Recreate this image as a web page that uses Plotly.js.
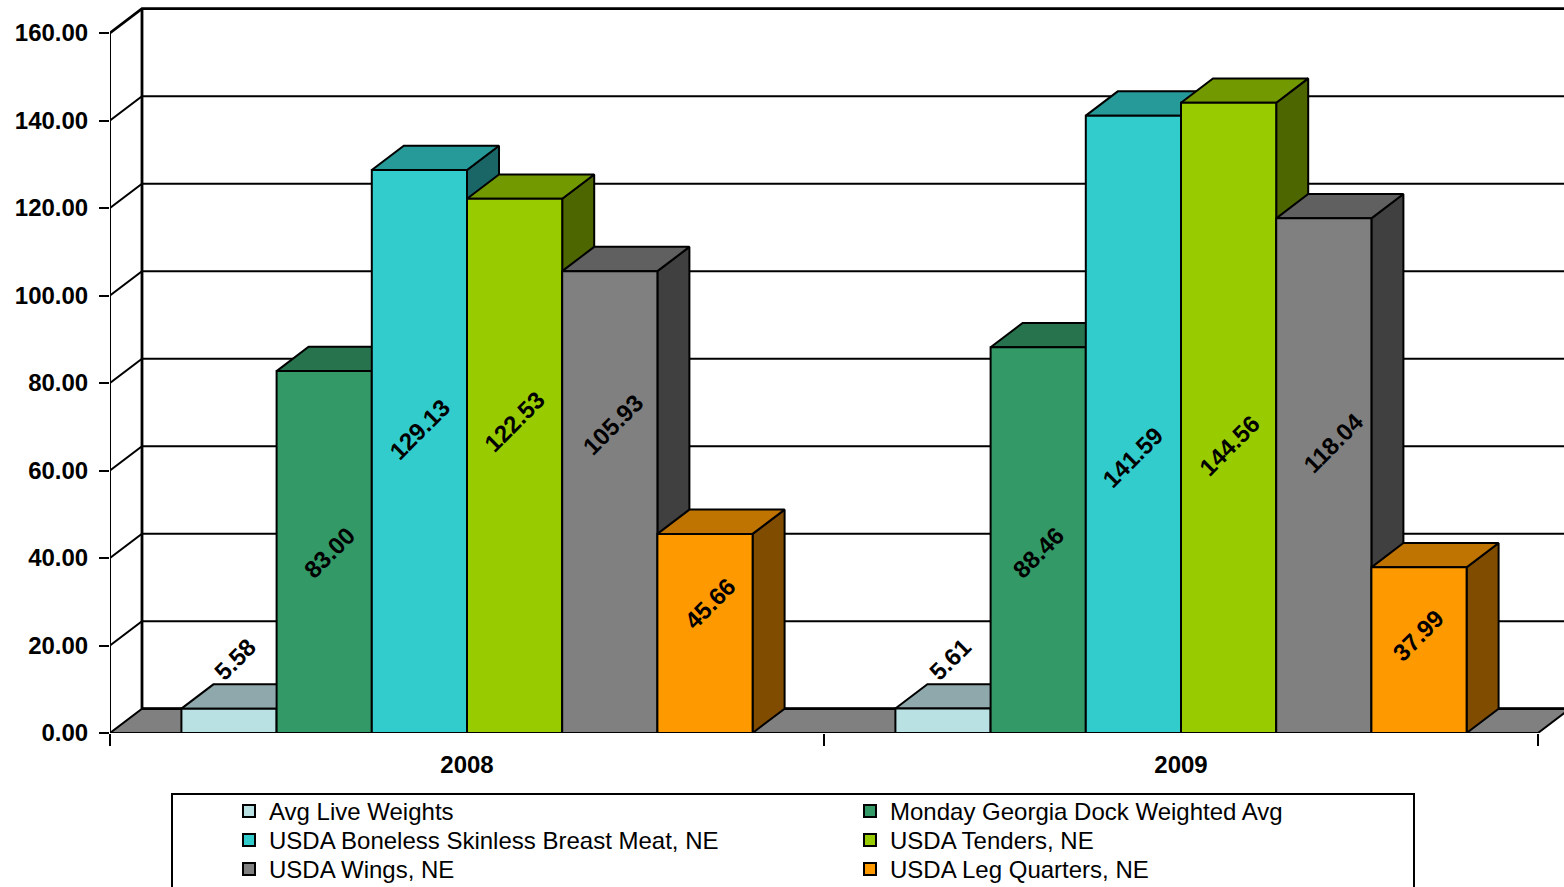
<!DOCTYPE html>
<html>
<head>
<meta charset="utf-8">
<script src="https://cdn.plot.ly/plotly-3.0.1.min.js"></script>
<style>html,body{margin:0;padding:0;background:#fff;overflow:hidden}#chart{width:1564px;height:887px}</style>
</head>
<body>
<div id="chart"></div>
<script>
// ---- data ----
const years = ['2008', '2009'];
const seriesNames = ['Avg Live Weights', 'Monday Georgia Dock Weighted Avg', 'USDA Boneless Skinless Breast Meat, NE', 'USDA Tenders, NE', 'USDA Wings, NE', 'USDA Leg Quarters, NE'];
const avgLive = [5.58, 5.61];
const mondayDock = [83.00, 88.46];
const breastMeat = [129.13, 141.59];
const tenders = [122.53, 144.56];
const wings = [105.93, 118.04];
const legQuarters = [45.66, 37.99];
const seriesValues = [avgLive, mondayDock, breastMeat, tenders, wings, legQuarters];
const yTicks = [0, 20, 40, 60, 80, 100, 120, 140, 160];

// ---- styles ----
const frontColors = ['#B9E0E3', '#339966', '#33CCCC', '#99CC00', '#808080', '#FF9900'];
const topColors = ['#8FA8AB', '#26734D', '#269999', '#739900', '#606060', '#BF7300'];
const sideColors = ['#5C7072', '#1A4D33', '#1A6666', '#4D6600', '#404040', '#804D00'];
// label nudges in pixels from the bar's mid-height [series][year]
const labelNudgeX = [[6, 7], [5, 0], [0, -1], [0, 1], [3, 10], [5, -1]];
const labelNudgeY = [[61, 61], [0, -12], [22, -33], [44, -28], [78, 33], [30, 15]];
// which legend row each series sits on
const legendRows = ['legend', 'legend', 'legend2', 'legend2', 'legend3', 'legend3'];

// ---- geometry ----
const W = 1564, H = 887, LEFT = 110, BOTTOM = 733, PX_PER_CAT = 714, PX_PER_UNIT = 4.375;
const BAR_PX_PER_UNIT = 4.36; // the reference draws its bars a touch shorter than its tick scale
const barScale = BAR_PX_PER_UNIT / PX_PER_UNIT;
const xMax = (W - LEFT) / PX_PER_CAT, yMax = BOTTOM / PX_PER_UNIT;
const depthX = 32 / PX_PER_CAT, depthY = 24.3 / PX_PER_UNIT;
const barW = 0.8 / 6;
const catCenter = c => c + 0.5;
const barLeft = (c, s) => catCenter(c) + (s - 3) * barW;

const line = (x, y, width) => ({type: 'scatter', mode: 'lines', x, y, xaxis: 'x', yaxis: 'y', showlegend: false,
  hoverinfo: 'skip', cliponaxis: false, line: {color: '#000', width}});
const poly = (x, y, fill) => ({type: 'scatter', mode: 'lines', x, y, xaxis: 'x', yaxis: 'y', showlegend: false,
  hoverinfo: 'skip', cliponaxis: false, fill: 'toself', fillcolor: fill, line: {color: '#000', width: 2}});

const traces = [];
// floor
traces.push(poly([0, depthX, 2 + depthX, 2, 0], [0, depthY, depthY, 0, 0], '#808080'));
// gridlines on left and back walls
yTicks.slice(1, -1).forEach(v => traces.push(line([0, depthX, xMax], [v, v + depthY, v + depthY], 2)));
// frame
traces.push(line([0, depthX, xMax], [160, 160 + depthY, 160 + depthY], 2.8));
traces.push(line([0, 0], [0, 160], 2));
traces.push(line([depthX, depthX], [depthY, 160 + depthY], 2.8));
traces.push(line([depthX, xMax], [depthY, depthY], 2.8));
traces.push(line([0, 2], [0, 0], 2));
// 3-D sides and tops, left to right
years.forEach((_, c) => seriesValues.forEach((vals, s) => {
  const v = vals[c] * barScale, a = barLeft(c, s), b = a + barW;
  traces.push(poly([b, b + depthX, b + depthX, b, b], [0, depthY, v + depthY, v, 0], sideColors[s]));
  traces.push(poly([a, a + depthX, b + depthX, b, a], [v, v + depthY, v + depthY, v, v], topColors[s]));
}));
// front faces on an overlaid subplot
seriesValues.forEach((vals, s) => traces.push({
  type: 'bar', name: seriesNames[s], legend: legendRows[s], x: years.map((_, c) => catCenter(c)), y: vals, xaxis: 'x2', yaxis: 'y2',
  marker: {color: frontColors[s], line: {color: '#000', width: 2}}, hoverinfo: 'name+y'
}));

const labelFont = {family: 'Liberation Sans, Arial, sans-serif', size: 24, color: '#000', weight: 'bold'};
const annotations = [];
seriesValues.forEach((vals, s) => vals.forEach((v, c) => annotations.push({
  xref: 'x2', yref: 'y2', x: barLeft(c, s) + barW / 2, y: v / 2, text: v.toFixed(2), showarrow: false,
  textangle: -45, xshift: labelNudgeX[s][c], yshift: labelNudgeY[s][c], font: labelFont
})));

const legendRow = top => ({orientation: 'h', xref: 'container', yref: 'container', x: 229 / W, y: 1 - top / H, xanchor: 'left', yanchor: 'top',
  entrywidth: 576, entrywidthmode: 'pixels', itemwidth: 30, traceorder: 'normal', bgcolor: 'rgba(0,0,0,0)',
  font: {family: 'Liberation Sans, Arial, sans-serif', size: 24, color: '#000'}});

const layout = {
  width: W, height: H, margin: {l: LEFT, r: 0, t: 0, b: H - BOTTOM, pad: 0},
  paper_bgcolor: '#fff', plot_bgcolor: '#fff', barmode: 'group', bargap: 0.2, bargroupgap: 0,
  showlegend: true, annotations,
  xaxis: {range: [0, xMax], tickmode: 'array', tickvals: [0, 1, 2], ticktext: ['', '', ''], ticks: 'outside', ticklen: 12,
    tickwidth: 2, tickcolor: '#000', showgrid: false, zeroline: false, showline: false},
  yaxis: {range: [0, yMax], tickmode: 'array', tickvals: yTicks, ticktext: yTicks.map(v => v.toFixed(2)), ticks: 'outside', ticklen: 10,
    tickwidth: 2, tickcolor: '#000', showgrid: false, zeroline: false, showline: false, tickfont: labelFont, ticklabelstandoff: 6},
  xaxis2: {overlaying: 'x', anchor: 'y2', side: 'bottom', range: [0, xMax], tickmode: 'array', tickvals: [0.5, 1.5], ticktext: years,
    ticks: '', showgrid: false, zeroline: false, showline: false, tickfont: labelFont, ticklabelstandoff: 15},
  yaxis2: {overlaying: 'y', anchor: 'x2', range: [0, yMax / barScale], showticklabels: false, ticks: '', showgrid: false, zeroline: false, showline: false},
  legend: legendRow(789), legend2: legendRow(818), legend3: legendRow(847),
  shapes: [{type: 'rect', xref: 'paper', yref: 'paper', layer: 'below',
    x0: (172 - LEFT) / (W - LEFT), x1: (1414 - LEFT) / (W - LEFT),
    y0: (BOTTOM - 900) / BOTTOM, y1: (BOTTOM - 794) / BOTTOM, line: {color: '#000', width: 2}, fillcolor: '#fff'}]
};
Plotly.newPlot('chart', traces, layout, {displayModeBar: false, staticPlot: true});
</script>
</body>
</html>
